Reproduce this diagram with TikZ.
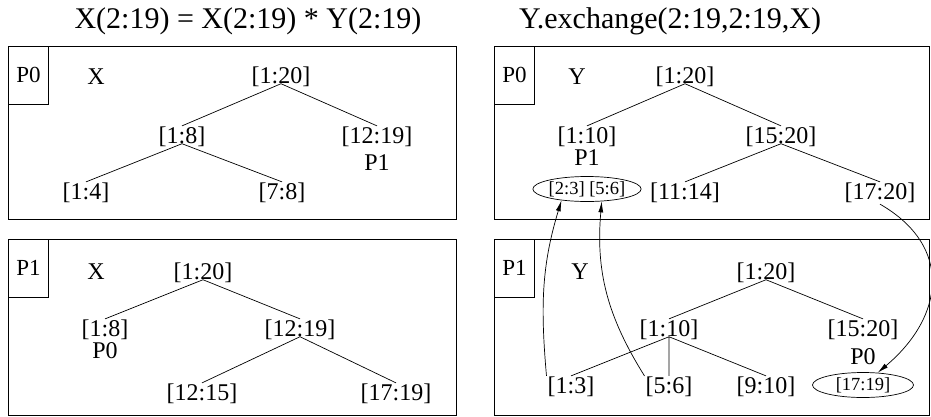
\documentclass[tikz,border=0pt]{standalone}
\usepackage{fontspec}
\setmainfont{Liberation Serif}
\usetikzlibrary{arrows.meta,positioning,shapes.geometric}
\tikzset{
  panel/.style={draw, line width=0.8pt, anchor=north west, inner sep=0pt},
  pbox/.style={draw, line width=0.8pt, anchor=north west, minimum width=40pt,
               minimum height=58pt, inner sep=0pt, font=\fontsize{23}{25}\selectfont},
  ttl/.style={inner sep=0pt, font=\fontsize{30}{33}\selectfont},
  lbl/.style={inner sep=1pt, font=\fontsize{24}{26}\selectfont},
  part/.style={draw, ellipse, line width=0.7pt, inner sep=0pt, minimum width=101pt,
               minimum height=25pt, font=\fontsize{18.5}{20}\selectfont},
  edge/.style={line width=0.7pt},
  arr/.style={-{Latex[length=11pt,width=5pt]}, line width=0.7pt},
}

\begin{document}
\begin{tikzpicture}[x=1pt, y=1pt, on grid]
  \useasboundingbox (0,0) rectangle (931,-416);
  % headings
  \node[ttl] (h1) at (248,-21) {X(2:19) = X(2:19) * Y(2:19)};
  \node[ttl] (h2) at (670,-21) {Y.exchange(2:19,2:19,X)};

  % X on P0
  \node[panel, minimum width=448pt, minimum height=173pt] (tl) at (8,-46) {};
  \node[pbox] (tlp) at (tl.north west) {P0};
  \node[lbl] (tlx) at (96,-77) {X};
  \node[lbl] (a1) at (281,-77) {[1:20]};
  \node[lbl, below left=60pt and 99pt of a1] (a2) {[1:8]};
  \node[lbl, below right=60pt and 96pt of a1] (a3) {[12:19]};
  \node[lbl, below=26pt of a3] (a3p) {P1};
  \node[lbl, below left=56pt and 96pt of a2] (a4) {[1:4]};
  \node[lbl, below right=56pt and 100pt of a2] (a5) {[7:8]};
  \draw[edge] (a1.base) -- (a2.north) (a1.base) -- (a3.north);
  \draw[edge] (a2.base) -- (a4.north) (a2.base) -- (a5.north);

  % X on P1
  \node[panel, minimum width=448pt, minimum height=176pt] (bl) at (8,-239) {};
  \node[pbox] (blp) at (bl.north west) {P1};
  \node[lbl] (blx) at (96,-272) {X};
  \node[lbl] (b1) at (203,-273) {[1:20]};
  \node[lbl, below left=57pt and 98pt of b1] (b2) {[1:8]};
  \node[lbl, below=21pt of b2] (b2p) {P0};
  \node[lbl, below right=57pt and 97pt of b1] (b3) {[12:19]};
  \node[lbl, below left=64pt and 98pt of b3] (b4) {[12:15]};
  \node[lbl, below right=64pt and 96pt of b3] (b5) {[17:19]};
  \draw[edge] (b1.base) -- (b2.north) (b1.base) -- (b3.north);
  \draw[edge] (b3.base) -- (b4.north) (b3.base) -- (b5.north);

  % Y on P0
  \node[panel, minimum width=435pt, minimum height=173pt] (tr) at (494,-46) {};
  \node[pbox] (trp) at (tr.north west) {P0};
  \node[lbl] (try) at (577,-77) {Y};
  \node[lbl] (c1) at (685,-77) {[1:20]};
  \node[lbl, below left=60pt and 98pt of c1] (c2) {[1:10]};
  \node[lbl, below=21pt of c2] (c2p) {P1};
  \node[part, below=52pt of c2] (e1) {[2:3] [5:6]};
  \node[lbl, below right=60pt and 96pt of c1] (c3) {[15:20]};
  \node[lbl, below left=56pt and 96pt of c3] (c4) {[11:14]};
  \node[lbl, below right=56pt and 99pt of c3] (c5) {[17:20]};
  \draw[edge] (c1.base) -- (c2.north) (c1.base) -- (c3.north);
  \draw[edge] (c3.base) -- (c4.north) (c3.base) -- (c5.north);

  % Y on P1
  \node[panel, minimum width=435pt, minimum height=176pt] (br) at (494,-239) {};
  \node[pbox] (brp) at (br.north west) {P1};
  \node[lbl] (bry) at (580,-272) {Y};
  \node[lbl] (d1) at (766,-273) {[1:20]};
  \node[lbl, below left=57pt and 97pt of d1] (d2) {[1:10]};
  \node[lbl, below right=57pt and 97pt of d1] (d3) {[15:20]};
  \node[lbl, below=27pt of d3] (d3p) {P0};
  \node[part, below=55pt of d3] (e2) {[17:19]};
  \node[lbl, below left=57pt and 98pt of d2] (d4) {[1:3]};
  \node[lbl, below=57pt of d2] (d5) {[5:6]};
  \node[lbl, below right=57pt and 97pt of d2] (d6) {[9:10]};
  \draw[edge] (d1.base) -- (d2.north) (d1.base) -- (d3.north);
  \draw[edge] (d2.base) -- (d4.north) (d2.base) -- (d5.north) (d2.base) -- (d6.north);

  % exchange
  \draw[arr] (d4.north west) to[out=95, in=-107] (e1.204);
  \draw[arr] (d5.north west) to[out=122, in=-95] (e1.320);
  \draw[arr] (c5.south) to[out=-30, in=40, looseness=1.3] (e2.40);
\end{tikzpicture}
\end{document}
